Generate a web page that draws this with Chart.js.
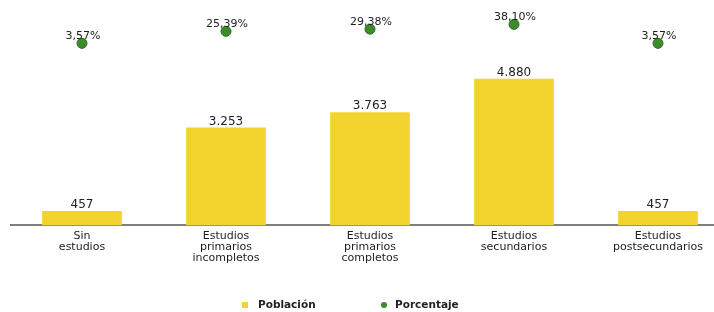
<!DOCTYPE html>
<html>
<head>
<meta charset="utf-8">
<script src="https://cdn.jsdelivr.net/npm/chart.js@4/dist/chart.umd.min.js"></script>
<style>
  html, body { margin: 0; padding: 0; background: #fff; overflow: hidden; }
  #wrap { position: relative; width: 714px; height: 312px; }
</style>
</head>
<body>
<div id="wrap"><canvas id="grafico" width="714" height="312"></canvas></div>
<script>
const categorias = [['Sin', 'estudios'], ['Estudios', 'primarios', 'incompletos'], ['Estudios', 'primarios', 'completos'], ['Estudios', 'secundarios'], ['Estudios', 'postsecundarios']];
const poblacion = [457, 3253, 3763, 4880, 457];
const etiquetasPoblacion = ['457', '3.253', '3.763', '4.880', '457'];
const porcentaje = [3.57, 25.39, 29.38, 38.10, 3.57];
const etiquetasPorcentaje = ['3,57%', '25,39%', '29,38%', '38,10%', '3,57%'];

const amarillo = '#f3d42f';
const verde = '#3c8c2b';

// linea base, etiquetas y leyenda
const extras = {
  id: 'extras',
  beforeDatasetsDraw(chart) {
    const c = chart.ctx;
    const y0 = chart.scales.y.getPixelForValue(0);
    c.save();
    c.strokeStyle = '#555';
    c.lineWidth = 1.5;
    c.beginPath();
    c.moveTo(10, y0);
    c.lineTo(714, y0);
    c.stroke();
    c.restore();
  },
  afterDatasetsDraw(chart) {
    const c = chart.ctx;
    c.save();
    c.textAlign = 'center';
    c.textBaseline = 'alphabetic';
    c.fillStyle = '#222';
    c.font = '12px "DejaVu Sans"';
    chart.getDatasetMeta(0).data.forEach((el, i) => {
      c.fillText(etiquetasPoblacion[i], el.x, el.y - 3);
    });
    c.font = '11px "DejaVu Sans"';
    chart.getDatasetMeta(1).data.forEach((el, i) => {
      c.fillText(etiquetasPorcentaje[i], el.x + 1, el.y - 4);
    });
    // leyenda
    c.textAlign = 'left';
    c.textBaseline = 'middle';
    c.font = 'bold 10.5px "DejaVu Sans"';
    c.fillStyle = amarillo;
    c.fillRect(242, 302, 6, 6);
    c.fillStyle = '#222';
    c.fillText('Población', 258, 305.5);
    c.fillStyle = verde;
    c.beginPath();
    c.arc(384, 305, 3, 0, Math.PI * 2);
    c.fill();
    c.fillStyle = '#222';
    c.fillText('Porcentaje', 395, 305.5);
    c.restore();
  }
};

new Chart(document.getElementById('grafico'), {
  data: {
    labels: categorias,
    datasets: [
      {
        type: 'bar',
        label: 'Población',
        data: poblacion,
        backgroundColor: amarillo,
        barThickness: 79,
        yAxisID: 'y',
        clip: false,
        order: 2
      },
      {
        type: 'line',
        label: 'Porcentaje',
        data: porcentaje,
        showLine: false,
        pointRadius: 5,
        pointBackgroundColor: verde,
        pointBorderColor: '#2b6a1f',
        pointBorderWidth: 1,
        yAxisID: 'y2',
        clip: false,
        order: 1
      }
    ]
  },
  options: {
    responsive: false,
    animation: false,
    layout: { padding: { left: 82, right: 56, top: 10, bottom: 42 } },
    scales: {
      x: {
        offset: false,
        grid: { display: false, drawTicks: false },
        border: { display: false },
        ticks: {
          color: '#1e1e1e',
          font: { family: '"DejaVu Sans"', size: 11, lineHeight: 1.0 },
          padding: 6,
          maxRotation: 0,
          autoSkip: false
        }
      },
      y: { display: false, min: 0, max: 7190 },
      y2: { display: false, min: -326.7, max: 64.2 }
    },
    plugins: {
      legend: { display: false },
      tooltip: { enabled: false }
    }
  },
  plugins: [extras]
});
</script>
</body>
</html>
